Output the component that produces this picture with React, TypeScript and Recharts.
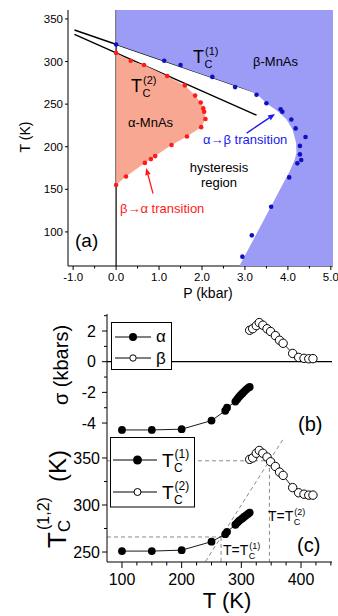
import React from "react";
import { ComposedChart, Scatter, XAxis, YAxis, ReferenceLine } from "recharts";

const FONT = '"Liberation Sans", Arial, Helvetica, sans-serif';

// (a) phase diagram: P (kbar) vs T (K)
const abP = [0, 1.12, 1.5, 2.24, 2.77, 3.27, 3.5, 3.83, 3.87, 4.08, 4.18, 4.41, 4.28, 4.28, 4.31, 4.22, 4.03, 3.61, 3.16, 2.94];
const abT = [320, 301, 296, 282, 270, 261, 251, 244, 241, 232, 221.5, 211.5, 201, 191, 184.5, 180.5, 164, 129.5, 96, 71];
const baP = [0, 0.34, 0.65, 1.19, 1.6, 1.84, 1.97, 2.03, 2.05, 2.08, 1.98, 1.65, 1.29, 0.91, 0.81, 0.67, 0.23, 0];
const baT = [310, 301, 296, 283, 272, 260, 252, 245, 241, 232.5, 223, 212, 202, 189, 185.5, 181, 165, 155];

// beta-MnAs region outline
const betaEdgeP = [0, 0, 1, 2, 2.8, 3.1, 3.3, 3.5, 3.77, 3.97, 4.11, 4.19, 4.2, 4.16, 4.05, 2.87, 5.05, 5.05];
const betaEdgeT = [360.5, 320, 302.6, 285.2, 271.3, 265.8, 260.8, 251, 241.5, 232, 220, 205, 193, 185, 172, 60, 60, 360.5];

const tc1LineP = [-0.97, 3.41];
const tc1LineT = [337, 261];
const tc2LineP = [-0.97, 3.27];
const tc2LineT = [332, 237];
const blueArrowP = [3.04, 3.7];
const blueArrowT = [216, 238.5];
const redArrowP = [0.86, 0.7];
const redArrowT = [145, 175];

const pTicks = [-1, -0.5, 0, 0.5, 1, 1.5, 2, 2.5, 3, 3.5, 4, 4.5, 5];
const pMajor = [-1, 0, 1, 2, 3, 4, 5];
const pTopTicks = [-1, -0.75, -0.5, -0.25, 0, 0.25, 0.5, 0.75, 1, 1.25, 1.5, 1.75, 2, 2.25, 2.5, 2.75, 3, 3.25, 3.5, 3.75, 4, 4.25, 4.5, 4.75, 5];
const tTicksA = [100, 150, 200, 250, 300, 350];

// (b), (c) vs temperature
const tempAlpha = [100, 150, 200, 250, 273, 276, 290, 293, 296, 299, 302, 305, 308, 311, 314];
const sigmaAlpha = [-4.45, -4.45, -4.4, -3.84, -3.2, -3.0, -2.6, -2.45, -2.3, -2.17, -2.05, -1.93, -1.82, -1.72, -1.65];
const tc1Alpha = [251, 251, 252, 261, 269, 271.5, 279, 281, 283, 284.5, 286, 287.5, 289, 290.5, 292];
const tempBeta = [314, 319, 325, 330, 336, 343, 349, 357, 364, 370, 386, 396, 405, 413, 420];
const sigmaBeta = [2.05, 2.15, 2.35, 2.55, 2.38, 2.15, 1.97, 1.7, 1.4, 1.2, 0.54, 0.28, 0.22, 0.19, 0.2];
const tc2Beta = [348.5, 350, 355, 358, 355, 351, 346, 341, 335, 331.5, 318.5, 313, 311.5, 310.5, 310.5];

const tTicks = [100, 125, 150, 175, 200, 225, 250, 275, 300, 325, 350, 375, 400, 425, 450];
const tMajor = [100, 200, 300, 400];
const sigmaTicks = [-4, -3, -2, -1, 0, 1, 2, 3];
const sigmaMajor = [-4, -2, 0, 2];
const tcTicks = [250, 275, 300, 325, 350];
const tcMajor = [250, 300, 350];

// guide lines in (c)
const tc1Cross = 266;
const tc2Cross = 347;

const zip = (xs: number[], ys: number[]) => xs.map((x, i) => ({ x, y: ys[i] }));
const noShape = () => <g />;

type Side = "down" | "left";
function makeTick(side: Side, majors: number[], majorLen: number, minorLen: number, fontSize = 12, labelOff = 0, fmt?: (v: number) => string) {
  return (props: any) => {
    const { x, y, payload } = props;
    const v = Number(payload.value);
    const major = majors.some((m) => Math.abs(m - v) < 1e-6);
    const len = major ? majorLen : minorLen;
    const label = major && fmt ? fmt(v) : "";
    if (side === "down") {
      return (
        <g>
          <line x1={x} y1={y} x2={x} y2={y + len} stroke="#000" />
          {label && (
            <text x={x} y={y + labelOff} textAnchor="middle" fontSize={fontSize} fontFamily={FONT} fill="#000">
              {label}
            </text>
          )}
        </g>
      );
    }
    return (
      <g>
        <line x1={x} y1={y} x2={x - len} y2={y} stroke="#000" />
        {label && (
          <text x={x - labelOff} y={y + fontSize * 0.36} textAnchor="end" fontSize={fontSize} fontFamily={FONT} fill="#000">
            {label}
          </text>
        )}
      </g>
    );
  };
}

const arrowShape = (color: string) => (p: any) => {
  const { x1, y1, x2, y2 } = p;
  const a = Math.atan2(y2 - y1, x2 - x1);
  const L = 7;
  const W = 2.8;
  const bx = x2 - L * Math.cos(a);
  const by = y2 - L * Math.sin(a);
  const pts = `${x2},${y2} ${bx - W * Math.sin(a)},${by + W * Math.cos(a)} ${bx + W * Math.sin(a)},${by - W * Math.cos(a)}`;
  return (
    <g>
      <line x1={x1} y1={y1} x2={bx} y2={by} stroke={color} strokeWidth={1.3} />
      <polygon points={pts} fill={color} />
    </g>
  );
};

const dotA = (color: string) => (p: any) => <circle cx={p.cx} cy={p.cy} r={2.3} fill={color} />;
const filledDot = (p: any) => <circle cx={p.cx} cy={p.cy} r={3.9} fill="#000" />;
const openDot = (p: any) => <circle cx={p.cx} cy={p.cy} r={4.2} fill="#fff" stroke="#000" strokeWidth={1} />;

const axisLine = { stroke: "#000", strokeWidth: 1 };

function PanelA() {
  return (
    <ComposedChart width={338} height={300} margin={{ top: 10, right: 5, bottom: 0, left: 0 }}>
      <XAxis xAxisId={0} type="number" dataKey="x" domain={[-1.12, 5.05]} allowDataOverflow ticks={pTicks} interval={0} height={34} tickSize={0} tickMargin={0} tickLine={false} axisLine={axisLine} tick={makeTick("down", pMajor, 4, 2.5, 11.5, 15, (v) => v.toFixed(1))} />
      <XAxis xAxisId="top" orientation="top" type="number" domain={[-1.12, 5.05]} allowDataOverflow ticks={pTopTicks} interval={0} height={0} tickSize={0} tickMargin={0} tickLine={false} axisLine={axisLine} tick={makeTick("down", pMajor, 3, 3)} />
      <YAxis yAxisId={0} type="number" dataKey="y" domain={[60, 360.5]} allowDataOverflow ticks={tTicksA} interval={0} width={68} tickSize={0} tickMargin={0} tickLine={false} axisLine={axisLine} tick={makeTick("left", tTicksA, 3, 3, 11.5, 5, (v) => String(v))} />
      <YAxis yAxisId="right" orientation="right" type="number" domain={[60, 360.5]} allowDataOverflow ticks={tTicksA} interval={0} width={0} tickSize={0} tickMargin={0} tickLine={false} axisLine={axisLine} tick={makeTick("left", tTicksA, 3, 3)} />

      <Scatter data={zip(betaEdgeP, betaEdgeT)} shape={noShape} line={{ fill: "#9c9cf6", stroke: "none" }} lineType="joint" isAnimationActive={false} />
      <Scatter data={zip(baP, baT)} shape={noShape} line={{ fill: "#f8a892", stroke: "none" }} lineType="joint" isAnimationActive={false} />

      <ReferenceLine x={0} stroke="#000" strokeWidth={1.2} />
      <ReferenceLine segment={zip(tc1LineP, tc1LineT)} stroke="#000" strokeWidth={1.4} />
      <ReferenceLine segment={zip(tc2LineP, tc2LineT)} stroke="#000" strokeWidth={1.4} />
      <ReferenceLine segment={zip(blueArrowP, blueArrowT)} shape={arrowShape("#1a1aee")} />
      <ReferenceLine segment={zip(redArrowP, redArrowT)} shape={arrowShape("#ff1a1a")} />

      <Scatter data={zip(abP, abT)} shape={dotA("#1010c0")} isAnimationActive={false} />
      <Scatter data={zip(baP, baT)} shape={dotA("#ff1a1a")} isAnimationActive={false} />
    </ComposedChart>
  );
}

function PanelB() {
  return (
    <ComposedChart width={338} height={137} margin={{ top: 14, right: 6, bottom: 0, left: 0 }}>
      <XAxis xAxisId={0} type="number" dataKey="x" domain={[74.9, 451.9]} allowDataOverflow hide />
      <XAxis xAxisId="top" orientation="top" type="number" domain={[74.9, 451.9]} allowDataOverflow ticks={tTicks} interval={0} height={0} tickSize={0} tickMargin={0} tickLine={false} axisLine={axisLine} tick={makeTick("down", tMajor, 4, 4)} />
      <YAxis yAxisId={0} type="number" dataKey="y" domain={[-4.91, 3.11]} allowDataOverflow ticks={sigmaTicks} interval={0} width={107} tickSize={0} tickMargin={0} tickLine={false} axisLine={axisLine} tick={makeTick("left", sigmaMajor, 5, 3, 16, 11, (v) => String(v))} />
      <YAxis yAxisId="right" orientation="right" type="number" domain={[-4.91, 3.11]} allowDataOverflow ticks={sigmaTicks} interval={0} width={0} tickSize={0} tickMargin={0} tickLine={false} axisLine={axisLine} tick={makeTick("left", sigmaTicks, 4, 4)} />

      <ReferenceLine y={0} stroke="#000" strokeWidth={1.3} />
      <Scatter data={zip(tempAlpha, sigmaAlpha)} shape={filledDot} line={{ stroke: "#000", strokeWidth: 0.9 }} lineType="joint" isAnimationActive={false} />
      <Scatter data={zip(tempBeta, sigmaBeta)} shape={openDot} line={{ stroke: "#000", strokeWidth: 0.9 }} lineType="joint" isAnimationActive={false} />
    </ComposedChart>
  );
}

const dash = { stroke: "#8a8a8a", strokeWidth: 1, strokeDasharray: "4 3" };

function PanelC() {
  return (
    <ComposedChart width={338} height={186} margin={{ top: 7, right: 6, bottom: 0, left: 0 }}>
      <XAxis xAxisId={0} type="number" dataKey="x" domain={[74.9, 451.9]} allowDataOverflow ticks={tTicks} interval={0} height={54} tickSize={0} tickMargin={0} tickLine={false} axisLine={axisLine} tick={makeTick("down", tMajor, 6, 3.5, 16, 23, (v) => String(v))} />
      <XAxis xAxisId="top" orientation="top" type="number" domain={[74.9, 451.9]} allowDataOverflow ticks={tTicks} interval={0} height={0} tickSize={0} tickMargin={0} tickLine={false} axisLine={axisLine} tick={makeTick("down", tMajor, 4, 4)} />
      <YAxis yAxisId={0} type="number" dataKey="y" domain={[239.4, 372.3]} allowDataOverflow ticks={tcTicks} interval={0} width={107} tickSize={0} tickMargin={0} tickLine={false} axisLine={axisLine} tick={makeTick("left", tcMajor, 5, 3, 16, 7, (v) => String(v))} />
      <YAxis yAxisId="right" orientation="right" type="number" domain={[239.4, 372.3]} allowDataOverflow ticks={tcTicks} interval={0} width={0} tickSize={0} tickMargin={0} tickLine={false} axisLine={axisLine} tick={makeTick("left", tcTicks, 4, 4)} />

      <ReferenceLine segment={[{ x: 240, y: 240 }, { x: 372, y: 372 }]} {...dash} />
      <ReferenceLine segment={[{ x: 75, y: tc1Cross }, { x: tc1Cross, y: tc1Cross }]} {...dash} />
      <ReferenceLine segment={[{ x: tc1Cross, y: tc1Cross }, { x: tc1Cross, y: 239.5 }]} {...dash} />
      <ReferenceLine segment={[{ x: 75, y: tc2Cross }, { x: tc2Cross, y: tc2Cross }]} {...dash} />
      <ReferenceLine segment={[{ x: tc2Cross, y: tc2Cross }, { x: tc2Cross, y: 239.5 }]} {...dash} />

      <Scatter data={zip(tempAlpha, tc1Alpha)} shape={filledDot} line={{ stroke: "#000", strokeWidth: 0.9 }} lineType="joint" isAnimationActive={false} />
      <Scatter data={zip(tempBeta, tc2Beta)} shape={openDot} line={{ stroke: "#000", strokeWidth: 0.9 }} lineType="joint" isAnimationActive={false} />
    </ComposedChart>
  );
}

// T with subscript C and superscript stacked above it
function Tc({ x, y, size, sub, sup, sizeSmall, color = "#000", label = "T", w }: any) {
  const off = w ?? size * 0.611;
  return (
    <g fill={color} fontFamily={FONT}>
      <text x={x} y={y} fontSize={size}>{label}</text>
      <text x={x + off + 0.5} y={y + size * 0.25} fontSize={sizeSmall}>{sub}</text>
      <text x={x + off + 1} y={y - size * 0.45} fontSize={sizeSmall}>{sup}</text>
    </g>
  );
}

function Overlay() {
  const t = { fontFamily: FONT, fill: "#000" };
  return (
    <svg width={338} height={616} style={{ position: "absolute", left: 0, top: 0, pointerEvents: "none" }}>
      {/* panel (a) */}
      <text {...t} fontSize={14} textAnchor="middle" transform="translate(30,137) rotate(-90)">T (K)</text>
      <text {...t} fontSize={14} textAnchor="middle" x={208} y={298}>P (kbar)</text>
      <text {...t} fontSize={19} x={75} y={247}>(a)</text>
      <Tc x={193} y={63} size={18} sizeSmall={11} sub="C" sup="(1)" />
      <Tc x={131} y={92} size={18} sizeSmall={11} sub="C" sup="(2)" />
      <text {...t} fontSize={13} x={253} y={66}>β-MnAs</text>
      <text {...t} fontSize={13} x={128} y={127}>α-MnAs</text>
      <text fontFamily={FONT} fill="#1a1aee" fontSize={13} x={203} y={144}>α→β transition</text>
      <text {...t} fontSize={13} textAnchor="middle" x={219} y={172}>hysteresis</text>
      <text {...t} fontSize={13} textAnchor="middle" x={219} y={187}>region</text>
      <text fontFamily={FONT} fill="#ff1a1a" fontSize={13} x={120} y={213}>β→α transition</text>

      {/* panel (b) */}
      <text {...t} fontSize={20} textAnchor="middle" transform="translate(68,365) rotate(-90)">σ (kbars)</text>
      <text {...t} fontSize={20} x={298} y={431}>(b)</text>
      <rect x={111.5} y={322.5} width={60} height={47} fill="#fff" stroke="#000" />
      <line x1={115} y1={337} x2={129} y2={337} stroke="#000" />
      <circle cx={133} cy={337} r={4} fill="#000" />
      <line x1={137} y1={337} x2={151} y2={337} stroke="#000" />
      <text {...t} fontSize={17} x={156} y={342}>α</text>
      <line x1={115} y1={358} x2={129.5} y2={358} stroke="#000" />
      <circle cx={133} cy={358} r={3.2} fill="#fff" stroke="#000" />
      <line x1={136.5} y1={358} x2={151} y2={358} stroke="#000" />
      <text {...t} fontSize={17} x={156} y={364}>β</text>

      {/* panel (c) */}
      <g transform="translate(66,548) rotate(-90)" fontFamily={FONT} fill="#000">
        <text x={0} y={0} fontSize={26}>T</text>
        <text x={16} y={4} fontSize={17}>C</text>
        <text x={18} y={-17} fontSize={16}>(1,2)</text>
        <text x={66} y={0} fontSize={24}>(K)</text>
      </g>
      <text {...t} fontSize={22} textAnchor="middle" x={227} y={608}>T (K)</text>
      <text {...t} fontSize={20} x={297} y={552}>(c)</text>
      <Tc x={223} y={555} size={14} sizeSmall={9} sub="C" sup="(1)" label="T=T" w={25.3} />
      <Tc x={268} y={521} size={14} sizeSmall={9} sub="C" sup="(2)" label="T=T" w={25.3} />
      <rect x={110.5} y={437.5} width={84} height={69.5} fill="#fff" stroke="#000" />
      <line x1={113} y1={460} x2={133} y2={460} stroke="#000" />
      <circle cx={137.5} cy={460} r={4.5} fill="#000" />
      <line x1={142} y1={460} x2={157} y2={460} stroke="#000" />
      <Tc x={162} y={467} size={19} sizeSmall={12} sub="C" sup="(1)" />
      <line x1={113} y1={492} x2={134} y2={492} stroke="#000" />
      <circle cx={137.5} cy={492} r={3.5} fill="#fff" stroke="#000" />
      <line x1={141} y1={492} x2={157} y2={492} stroke="#000" />
      <Tc x={162} y={499} size={19} sizeSmall={12} sub="C" sup="(2)" />
    </svg>
  );
}

export default function App() {
  return (
    <div style={{ position: "absolute", left: 0, top: 0, width: 338, height: 616, background: "#fff" }}>
      <div style={{ position: "absolute", left: 0, top: 0 }}>
        <PanelA />
      </div>
      <div style={{ position: "absolute", left: 0, top: 300 }}>
        <PanelB />
      </div>
      <div style={{ position: "absolute", left: 0, top: 430 }}>
        <PanelC />
      </div>
      <Overlay />
    </div>
  );
}
